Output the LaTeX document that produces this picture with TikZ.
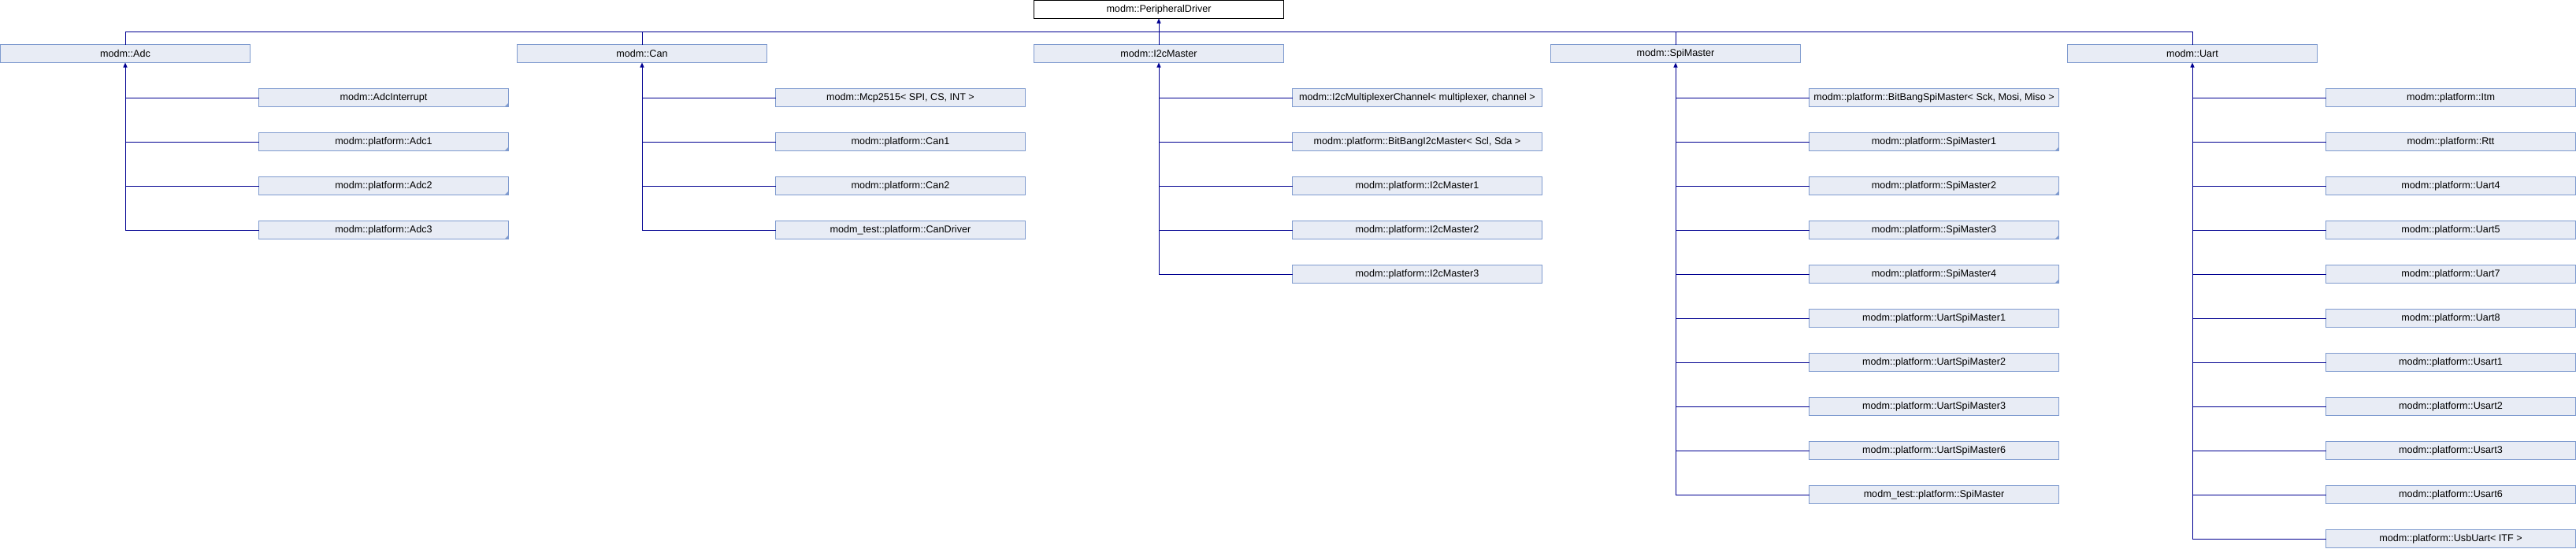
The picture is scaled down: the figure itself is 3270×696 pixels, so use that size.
\documentclass[tikz,border=0pt]{standalone}
\usepackage{fontspec}
\setmainfont{Liberation Sans}
\usetikzlibrary{arrows.meta}
\definecolor{boxfill}{HTML}{E8ECF5}
\definecolor{boxline}{HTML}{7F9BCF}
\definecolor{edgecol}{RGB}{0,0,145}
\newcommand\cornermark[1]{\fill[boxline] (#1.south east) -- ++(-5,0) -- ++(5,-5) -- cycle;}
\begin{document}
\begin{tikzpicture}[x=1pt,y=-1pt,
  cls/.style={draw=boxline, fill=boxfill, line width=1pt, minimum width=317pt,
    minimum height=23pt, inner sep=0pt, outer sep=0pt, font=\fontsize{12.6}{14}\selectfont},
  rootcls/.style={cls, draw=black, fill=white},
  edgeline/.style={draw=edgecol, line width=1pt},
  inh/.style={edgeline, {Triangle[width=5pt,length=6pt]}-}]
\useasboundingbox (0,0) rectangle (3270,696);
% root
\node[rootcls] (root) at (1471,12) {modm::PeripheralDriver};
% level 1
\node[cls] (adc)  at (159,68)  {modm::Adc};
\node[cls] (can)  at (815,68)  {modm::Can};
\node[cls] (i2c)  at (1471,68) {modm::I2cMaster};
\node[cls] (spi)  at (2127,68) {modm::SpiMaster};
\node[cls] (uart) at (2783,68) {modm::Uart};
\coordinate (bus) at (0,40.5);
% bus to root
\draw[edgeline] (adc.north) -- (adc.north |- bus) -- (uart.north |- bus) -- (uart.north);
\draw[edgeline] (can.north) -- (can.north |- bus);
\draw[edgeline] (spi.north) -- (spi.north |- bus);
\draw[inh] (root.south) -- (i2c.north);
% Adc children
\foreach \lab [count=\i from 0] in {modm::AdcInterrupt, modm::platform::Adc1, modm::platform::Adc2, modm::platform::Adc3} {
  \node[cls] (adc\i) at (487,124+56*\i) {\lab};
  \cornermark{adc\i}
  \draw[edgeline] (adc.south |- adc\i.west) -- (adc\i.west);
}
\draw[inh] (adc.south) -- (adc.south |- adc3.west);
% Can children
\foreach \lab [count=\i from 0] in {{modm::Mcp2515< SPI, CS, INT >}, modm::platform::Can1, modm::platform::Can2, modm\_test::platform::CanDriver} {
  \node[cls] (can\i) at (1143,124+56*\i) {\lab};
  \draw[edgeline] (can.south |- can\i.west) -- (can\i.west);
}
\draw[inh] (can.south) -- (can.south |- can3.west);
% I2cMaster children
\foreach \lab [count=\i from 0] in {{modm::I2cMultiplexerChannel< multiplexer, channel >}, {modm::platform::BitBangI2cMaster< Scl, Sda >}, modm::platform::I2cMaster1, modm::platform::I2cMaster2, modm::platform::I2cMaster3} {
  \node[cls] (i2c\i) at (1799,124+56*\i) {\lab};
  \draw[edgeline] (i2c.south |- i2c\i.west) -- (i2c\i.west);
}
\draw[inh] (i2c.south) -- (i2c.south |- i2c4.west);
% SpiMaster children
\foreach \lab [count=\i from 0] in {{modm::platform::BitBangSpiMaster< Sck, Mosi, Miso >}, modm::platform::SpiMaster1, modm::platform::SpiMaster2, modm::platform::SpiMaster3, modm::platform::SpiMaster4, modm::platform::UartSpiMaster1, modm::platform::UartSpiMaster2, modm::platform::UartSpiMaster3, modm::platform::UartSpiMaster6, modm\_test::platform::SpiMaster} {
  \node[cls] (spi\i) at (2455,124+56*\i) {\lab};
  \draw[edgeline] (spi.south |- spi\i.west) -- (spi\i.west);
}
\foreach \i in {1,2,3,4} {\cornermark{spi\i}}
\draw[inh] (spi.south) -- (spi.south |- spi9.west);
% Uart children
\foreach \lab [count=\i from 0] in {modm::platform::Itm, modm::platform::Rtt, modm::platform::Uart4, modm::platform::Uart5, modm::platform::Uart7, modm::platform::Uart8, modm::platform::Usart1, modm::platform::Usart2, modm::platform::Usart3, modm::platform::Usart6, {modm::platform::UsbUart< ITF >}} {
  \node[cls] (uart\i) at (3111,124+56*\i) {\lab};
  \draw[edgeline] (uart.south |- uart\i.west) -- (uart\i.west);
}
\draw[inh] (uart.south) -- (uart.south |- uart10.west);
\end{tikzpicture}
\end{document}
